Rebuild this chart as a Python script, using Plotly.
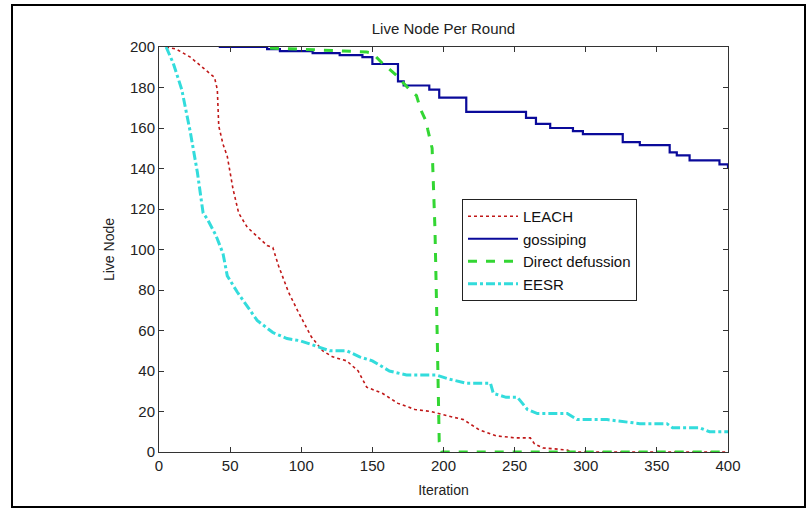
import plotly.graph_objects as go

# ---- data ----
leach_x = [5, 12, 22, 34, 39, 41, 42, 45, 48, 52, 56, 62, 70, 76, 80, 84, 91, 98, 107, 115,
           122, 132, 140, 146, 157, 168, 180, 191, 202, 214, 225, 237, 250, 261, 264, 270,
           287, 290, 400]
leach_y = [200, 199, 195, 188, 185, 179, 161, 152, 146, 130, 118, 111, 106, 102, 101, 92, 79,
           69, 57, 50, 47, 45, 40, 32, 29, 24, 21, 20, 18, 16, 11, 8, 7, 7, 4, 2, 1, 0, 0]

goss_x = [42, 76, 85, 108, 127, 143, 150, 168, 172, 190, 197, 216, 258, 265, 275, 291, 298,
          326, 338, 359, 364, 373, 394, 400]
goss_y = [200, 199, 198, 197, 196, 195, 191.6, 183, 181, 179, 175, 168, 165, 162, 160, 158.5,
          157, 153, 151.5, 148, 146.5, 144, 142, 140]

direct_x = [78, 100, 130, 146, 150, 157, 167, 176, 181, 184, 188, 189, 192, 193, 194, 195.5,
            197, 199, 400]
direct_y = [199.5, 199, 198, 197.5, 197, 192, 186, 179, 176, 169, 163, 159, 150, 130, 110, 60,
            5, 0, 0]

eesr_x = [5, 10, 16, 22, 27, 31, 34, 40, 45, 48, 55, 62, 69, 80, 90, 99, 108, 120, 132, 141,
          150, 162, 174, 195, 204, 216, 233, 235, 244, 252, 259, 266, 287, 294, 315, 329, 338,
          357, 361, 380, 387, 400]
eesr_y = [200, 192, 179, 158, 138, 118, 115, 107, 98, 87, 79, 72, 65, 59, 56, 55, 53, 50, 50,
          47, 45, 40, 38, 38, 36, 34, 34, 29, 27, 27, 21, 19, 19, 16, 16, 15, 14, 14, 12, 12,
          10, 10]

x_ticks = [0, 50, 100, 150, 200, 250, 300, 350, 400]
y_ticks = [0, 20, 40, 60, 80, 100, 120, 140, 160, 180, 200]

FONT = "Liberation Sans, Arial, sans-serif"

fig = go.Figure()
fig.add_trace(go.Scatter(x=leach_x, y=leach_y, mode="lines", name="LEACH",
                         line=dict(color="#c01818", width=1.6, dash="dot")))
fig.add_trace(go.Scatter(x=goss_x, y=goss_y, mode="lines", name="gossiping",
                         line=dict(color="#0a0a9a", width=2.2, shape="hv")))
fig.add_trace(go.Scatter(x=direct_x, y=direct_y, mode="lines", name="Direct defussion",
                         line=dict(color="#33d633", width=3, dash="dash")))
fig.add_trace(go.Scatter(x=eesr_x, y=eesr_y, mode="lines", name="EESR",
                         line=dict(color="#33dcdc", width=3, dash="dashdot")))

axis_common = dict(showline=True, linecolor="#333333", linewidth=1, mirror="ticks",
                   ticks="inside", ticklen=5, tickcolor="#333333", showgrid=False,
                   zeroline=False, automargin=False,
                   tickfont=dict(family=FONT, size=15, color="#222222"),
                   title_font=dict(family=FONT, size=14, color="#222222"))

fig.update_xaxes(range=[0, 400], tickvals=x_ticks, title_text="Iteration",
                 title_standoff=12, **axis_common)
fig.update_yaxes(range=[0, 200], tickvals=y_ticks, title_text="Live Node",
                 title_standoff=12, **axis_common)

fig.update_layout(
    width=807, height=509,
    margin=dict(l=159, r=79, t=47, b=57),
    paper_bgcolor="white", plot_bgcolor="white",
    title=dict(text="Live Node Per Round", x=0.5, xref="paper", xanchor="center",
               y=1 - 29 / 509, yanchor="middle",
               font=dict(family=FONT, size=15, color="#222222")),
    legend=dict(x=(462 - 159) / 569, y=(452 - 199) / 405, xanchor="left", yanchor="top",
                bgcolor="white", bordercolor="#222222", borderwidth=1,
                font=dict(family=FONT, size=15, color="#111111"),
                tracegroupgap=0, itemwidth=50),
    showlegend=True,
    shapes=[dict(type="rect", xref="paper", yref="paper",
                 x0=(12 - 159) / 569, x1=(805 - 159) / 569,
                 y0=(452 - 507) / 405, y1=(452 - 5) / 405,
                 line=dict(color="black", width=2), layer="below")],
)

fig.write_html("out.html", config={"displayModeBar": False},
               post_script="document.body.style.margin='0';")
